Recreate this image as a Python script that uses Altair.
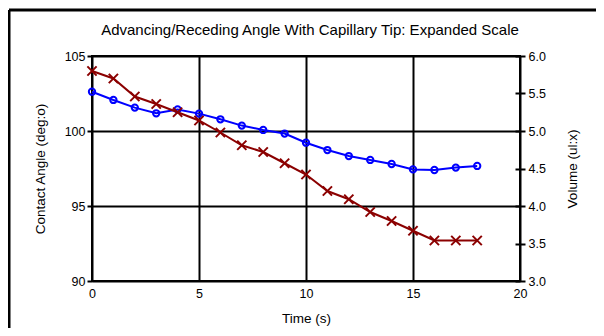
import altair as alt
import pandas as pd

time_s = list(range(19))
contact_angle = [102.62, 102.07, 101.56, 101.18, 101.44, 101.16, 100.78, 100.36, 100.07, 99.83,
                 99.22, 98.73, 98.33, 98.07, 97.80, 97.44, 97.40, 97.56, 97.67]
volume = [5.80, 5.70, 5.46, 5.36, 5.25, 5.14, 4.98, 4.81, 4.72, 4.57,
          4.42, 4.20, 4.09, 3.92, 3.80, 3.67, 3.54, 3.54, 3.54]

title_text = "Advancing/Receding Angle With Capillary Tip: Expanded Scale"
x_ticks = [0, 5, 10, 15, 20]
angle_ticks = [90, 95, 100, 105]
volume_ticks = [3.0, 3.5, 4.0, 4.5, 5.0, 5.5, 6.0]

df = pd.DataFrame({"time": time_s, "angle": contact_angle, "volume": volume})

FONT = "Liberation Sans"

x_enc = alt.X("time:Q", scale=alt.Scale(domain=[0, 20], nice=False),
              axis=alt.Axis(title="Time (s)", values=x_ticks, format="d", grid=True,
                            gridColor="black", gridWidth=2, domain=False, ticks=False,
                            labelFlush=False, labelPadding=6, titlePadding=12))

angle_y = alt.Y("angle:Q", scale=alt.Scale(domain=[90, 105], nice=False, zero=False),
                axis=alt.Axis(title="Contact Angle (deg:o)", orient="left", values=angle_ticks,
                              format="d", grid=True, gridColor="black", gridWidth=2,
                              domain=False, tickColor="black", tickWidth=2, tickSize=5,
                              labelFlush=False, labelPadding=2, titlePadding=17))

volume_y = alt.Y("volume:Q", scale=alt.Scale(domain=[3, 6], nice=False, zero=False),
                 axis=alt.Axis(title="Volume (ul:x)", orient="right", values=volume_ticks,
                               format=".1f", grid=False, domain=False, tickColor="black",
                               tickWidth=2, tickSize=10, offset=-5, labelPadding=3,
                               labelFlush=False, titlePadding=34, titleAngle=270))

base = alt.Chart(df)

angle_line = base.mark_line(color="#0000ff", strokeWidth=2).encode(x=x_enc, y=angle_y)
angle_pts = base.mark_point(shape="circle", filled=False, color="#0000ff", size=40,
                            strokeWidth=2, opacity=1).encode(x=x_enc, y=angle_y)

x_shape = "M-1,-1L1,1M1,-1L-1,1"
vol_line = base.mark_line(color="#8b0000", strokeWidth=2).encode(x=x_enc, y=volume_y)
vol_pts = base.mark_point(shape=x_shape, filled=False, color="#8b0000", size=85,
                          strokeWidth=2, opacity=1).encode(x=x_enc, y=volume_y)

frame = alt.Data(values=[{"k": 1}])
border_left = alt.Chart(frame).mark_rule(color="black", strokeWidth=3).encode(
    x=alt.value(-83), y=alt.value(-46), y2=alt.value(400))
border_top = alt.Chart(frame).mark_rule(color="black", strokeWidth=3).encode(
    x=alt.value(-83), x2=alt.value(700), y=alt.value(-46))
title_mark = alt.Chart(frame).mark_text(
    font=FONT, fontSize=15, color="black", align="center", baseline="middle"
).encode(x=alt.value(218), y=alt.value(-26), text=alt.value(title_text))

angle_layer = alt.layer(angle_line, angle_pts)
vol_layer = alt.layer(vol_line, vol_pts)

chart = alt.layer(angle_layer, vol_layer, border_left, border_top, title_mark).resolve_scale(
    y="independent"
).properties(
    width=428, height=225,
    autosize="none",
    padding={"left": 84, "top": 48, "right": 76, "bottom": 47},
).configure_view(
    stroke="black", strokeWidth=2
).configure_axis(
    labelFont=FONT, titleFont=FONT, labelFontSize=12.5, titleFontSize=13.5,
    labelColor="black", titleColor="black", titleFontWeight="normal"
)

chart.save("out.html", embed_options={"renderer": "svg", "actions": False})
